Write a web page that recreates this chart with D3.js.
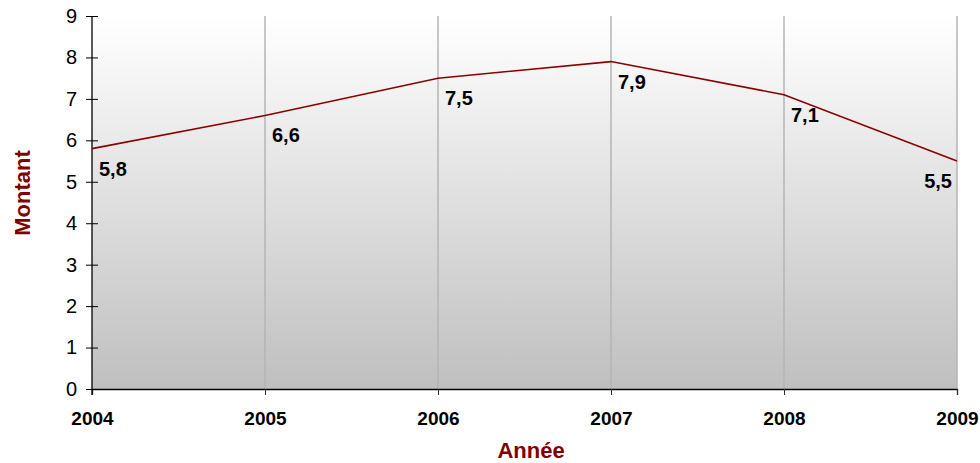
<!DOCTYPE html>
<html>
<head>
<meta charset="utf-8">
<script src="https://cdn.jsdelivr.net/npm/d3@7"></script>
<style>
  html, body { margin: 0; padding: 0; background: #fff; }
  svg { display: block; font-family: "Liberation Sans", Arial, sans-serif; }
</style>
</head>
<body>
<div id="chart"></div>
<script>
// donnees
const YEARS = [2004, 2005, 2006, 2007, 2008, 2009];
const MONTANTS = [5.8, 6.6, 7.5, 7.9, 7.1, 5.5];
const Y_TICKS = [0, 1, 2, 3, 4, 5, 6, 7, 8, 9];
const X_TITLE = "Année";
const Y_TITLE = "Montant";

const WIDTH = 980;
const HEIGHT = 463;
const MARGIN = {top: 16, right: 23, bottom: 74, left: 92};
const DARK_RED = "#800000";

const svg = d3.select("#chart").append("svg")
  .attr("width", WIDTH)
  .attr("height", HEIGHT);

const x = d3.scaleLinear()
  .domain([YEARS[0], YEARS[YEARS.length - 1]])
  .range([MARGIN.left, WIDTH - MARGIN.right]);

const y = d3.scaleLinear()
  .domain([0, 9])
  .range([HEIGHT - MARGIN.bottom, MARGIN.top]);

// FOND DEGRADE
const grad = svg.append("defs").append("linearGradient")
  .attr("id", "bg")
  .attr("x1", 0).attr("y1", 0).attr("x2", 0).attr("y2", 1);
grad.append("stop").attr("offset", "0%").attr("stop-color", "#ffffff");
grad.append("stop").attr("offset", "100%").attr("stop-color", "#bfbfbf");

svg.append("rect")
  .attr("x", x.range()[0])
  .attr("y", y(9))
  .attr("width", x.range()[1] - x.range()[0])
  .attr("height", y(0) - y(9))
  .attr("fill", "url(#bg)");

// GRILLE VERTICALE
svg.append("g")
  .selectAll("line")
  .data(YEARS.slice(1))
  .join("line")
  .attr("x1", d => x(d)).attr("x2", d => x(d))
  .attr("y1", y(9)).attr("y2", y(0))
  .attr("stroke", "#b4b4b4")
  .attr("stroke-width", 1.5);

// AXE X
const xAxis = svg.append("g")
  .attr("transform", `translate(0,${y(0)})`)
  .call(d3.axisBottom(x).tickValues(YEARS).tickFormat(d3.format("d")).tickSize(6).tickPadding(17));
xAxis.select(".domain").attr("stroke", "#000").attr("stroke-width", 1.3);
xAxis.selectAll(".tick line").attr("stroke", "#333");
xAxis.selectAll(".tick text")
  .attr("fill", "#000")
  .attr("font-size", 19)
  .attr("font-weight", "bold")
  .attr("font-family", "'Liberation Sans', Arial, sans-serif");

// AXE Y
const yAxis = svg.append("g")
  .attr("transform", `translate(${x(YEARS[0])},0)`)
  .call(d3.axisLeft(y).tickValues(Y_TICKS).tickSizeInner(6).tickSizeOuter(0).tickPadding(9));
yAxis.select(".domain").attr("stroke", "#000").attr("stroke-width", 1.3)
  .attr("d", `M0,${y(9)}V${y(0) + 6}`);
yAxis.selectAll(".tick line").attr("x1", 6).attr("x2", -6).attr("stroke", "#000");
yAxis.selectAll(".tick text")
  .attr("fill", "#000")
  .attr("font-size", 20)
  .attr("font-family", "'Liberation Sans', Arial, sans-serif");

// COURBE
const line = d3.line()
  .x((d, i) => x(YEARS[i]))
  .y(d => y(d));

svg.append("path")
  .datum(MONTANTS)
  .attr("d", line)
  .attr("fill", "none")
  .attr("stroke", "#8b0000")
  .attr("stroke-width", 1.6);

// ETIQUETTES
const last = MONTANTS.length - 1;
svg.append("g")
  .selectAll("text")
  .data(MONTANTS)
  .join("text")
  .attr("x", (d, i) => i === last ? x(YEARS[i]) - 5 : x(YEARS[i]) + 7)
  .attr("y", d => y(d) + 27)
  .attr("text-anchor", (d, i) => i === last ? "end" : "start")
  .attr("font-size", 20)
  .attr("font-weight", "bold")
  .attr("fill", "#000")
  .text(d => d3.format(".1f")(d).replace(".", ","));

// TITRES
svg.append("text")
  .attr("x", 531)
  .attr("y", 458)
  .attr("text-anchor", "middle")
  .attr("font-size", 22)
  .attr("font-weight", "bold")
  .attr("fill", DARK_RED)
  .text(X_TITLE);

svg.append("text")
  .attr("transform", "translate(30,193) rotate(-90)")
  .attr("text-anchor", "middle")
  .attr("font-size", 22)
  .attr("font-weight", "bold")
  .attr("fill", DARK_RED)
  .text(Y_TITLE);
</script>
</body>
</html>
